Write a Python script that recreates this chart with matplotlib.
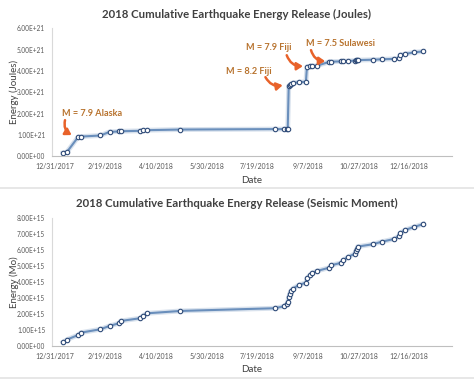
import datetime as dt

import matplotlib
matplotlib.use("Agg")
import matplotlib.pyplot as plt
import matplotlib.dates as mdates
import matplotlib.ticker as mticker
from matplotlib.lines import Line2D
from matplotlib.patches import FancyArrowPatch

# Day of year 2018 (Jan 1 = 1) for each event
days = [8, 12, 23, 26, 45, 54, 63, 65, 84, 87, 91, 124, 217, 226, 229, 230,
        231, 232, 233, 235, 241, 248, 249, 252, 254, 259, 271, 273, 283, 285,
        290, 296, 297, 298, 299, 314, 323, 335, 340, 341, 346, 355, 364]

# Cumulative energy, Joules (x1e21)
joules = [0.15, 0.20, 0.90, 0.92, 0.97, 1.14, 1.16, 1.17, 1.19, 1.21, 1.22,
          1.25, 1.27, 1.27, 1.28, 1.29, 3.30, 3.35, 3.38, 3.44, 3.47, 3.50,
          4.20, 4.22, 4.23, 4.25, 4.43, 4.44, 4.45, 4.46, 4.47, 4.49, 4.50,
          4.50, 4.51, 4.53, 4.55, 4.57, 4.60, 4.75, 4.80, 4.88, 4.92]

# Cumulative seismic moment (x1e15)
moment = [0.21, 0.38, 0.67, 0.82, 1.03, 1.24, 1.40, 1.55, 1.72, 1.88, 2.03,
          2.18, 2.35, 2.47, 2.60, 2.76, 3.06, 3.27, 3.43, 3.58, 3.81, 3.96,
          4.23, 4.44, 4.56, 4.69, 4.90, 5.05, 5.21, 5.38, 5.59, 5.76, 5.93,
          6.05, 6.22, 6.37, 6.53, 6.70, 6.89, 7.06, 7.27, 7.46, 7.64]

tick_dates = ["2017-12-31", "2018-02-19", "2018-04-10", "2018-05-30",
              "2018-07-19", "2018-09-07", "2018-10-27", "2018-12-16"]

# (label, text day, text y, arrow start day, start y, arrow end day, end y)
quakes = [
    ("M = 7.9 Alaska", 7, 2.02, 10, 1.69, 16.5, 0.99),
    ("M = 8.2 Fiji", 169, 3.99, 208, 3.71, 225, 3.33),
    ("M = 7.9 Fiji", 188.5, 5.12, 229, 4.74, 245, 4.23),
    ("M = 7.5 Sulawesi", 248, 5.30, 253, 4.98, 267, 4.46),
]

base = mdates.date2num(dt.datetime(2017, 12, 31))


def to_num(d):
    return base + d


xs = [to_num(d) for d in days]
ticks = [mdates.date2num(dt.datetime.strptime(t, "%Y-%m-%d")) for t in tick_dates]

plt.rcParams["font.family"] = ["Lato", "DejaVu Sans"]

LINE = "#6A8FBC"
EDGE = "#2F4B78"
TXT = "#595959"


def date_label(v, pos):
    d = mdates.num2date(v)
    return f"{d.month}/{d.day}/{d.year}"


def style_axes(ax, ymax, ystep, exp, ylabel):
    ax.set_xlim(to_num(-2.7), to_num(392))
    ax.set_ylim(0, ymax)
    ax.xaxis.set_major_locator(mticker.FixedLocator(ticks))
    ax.xaxis.set_major_formatter(mticker.FuncFormatter(date_label))
    ax.yaxis.set_major_locator(mticker.MultipleLocator(ystep))
    ax.yaxis.set_major_formatter(mticker.FuncFormatter(
        lambda v, p: f"{v:.2f}E+{exp}" if v > 0 else "0.00E+00"))
    ax.tick_params(axis="y", length=0, labelsize=4.7, labelcolor=TXT, pad=5)
    ax.tick_params(axis="x", length=0, labelsize=5.0, labelcolor=TXT, pad=5)
    for s in ("top", "right"):
        ax.spines[s].set_visible(False)
    ax.spines["left"].set_color("#D9D9D9")
    ax.spines["bottom"].set_color("#BFBFBF")
    ax.spines["left"].set_linewidth(0.8)
    ax.spines["bottom"].set_linewidth(0.8)
    ax.set_xlabel("Date", fontsize=7, color="#404040", labelpad=4)
    ax.set_ylabel(ylabel, fontsize=7, color="#404040")
    ax.yaxis.set_label_coords(-0.082, 0.5)


def draw_series(ax, vals):
    ax.plot(xs, vals, color="#C9D6E6", lw=3.5, alpha=0.7, zorder=1)
    ax.plot(xs, vals, color=LINE, lw=1.5, marker="o", ms=3.2,
            mfc="white", mec=EDGE, mew=0.8, zorder=2)


fig = plt.figure(figsize=(4.74, 3.79), dpi=100)

ax1 = fig.add_axes([0.110, 0.588, 0.843, 0.337])
draw_series(ax1, joules)
style_axes(ax1, 6, 1, 21, "Energy (Joules)")
fig.text(0.5, 0.963, "2018 Cumulative Earthquake Energy Release (Joules)",
         ha="center", va="center", fontsize=8.2, fontweight="bold", color="#404040")

for label, tx, ty, sx, sy, ex, ey in quakes:
    ax1.text(to_num(tx), ty, label, fontsize=6.6, fontweight="bold",
             color="#B8732E", ha="left", va="center")
    arr = FancyArrowPatch((to_num(sx), sy), (to_num(ex), ey),
                          arrowstyle="-|>,head_length=3.5,head_width=2.2",
                          connectionstyle="arc3,rad=0.35",
                          color="#E8622A", lw=1.8, mutation_scale=1,
                          shrinkA=0, shrinkB=0, zorder=3)
    ax1.add_patch(arr)

ax2 = fig.add_axes([0.110, 0.088, 0.843, 0.336])
draw_series(ax2, moment)
style_axes(ax2, 8, 1, 15, "Energy (Mo)")
fig.text(0.5, 0.463, "2018 Cumulative Earthquake Energy Release (Seismic Moment)",
         ha="center", va="center", fontsize=8.2, fontweight="bold", color="#404040")

# separator between the two charts
fig.add_artist(Line2D([0, 1], [0.504, 0.504], color="#E3E3E3", lw=1.2))
fig.add_artist(Line2D([0, 1], [0.002, 0.002], color="#E3E3E3", lw=1.2))

fig.savefig("out.png", dpi=100)
